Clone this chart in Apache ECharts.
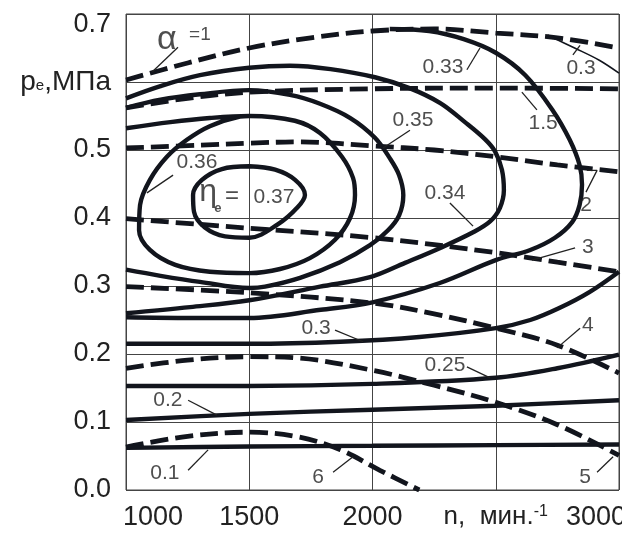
<!DOCTYPE html>
<html>
<head>
<meta charset="utf-8">
<title>Эффективный КПД</title>
<script src="https://cdn.jsdelivr.net/npm/echarts@6.0.0/dist/echarts.min.js"></script>
<style>
    html, body { margin: 0; padding: 0; background: #fff; }
    #chart { width: 622px; height: 535px; }
</style>
</head>
<body>
<div id="chart"></div>
<script>
    // n, мин-1  /  pe, МПа
    var xTicks = [1000, 1500, 2000, 2500, 3000];
    var yTicks = [0, 0.1, 0.2, 0.3, 0.4, 0.5, 0.6, 0.7];

    // коэффициент избытка воздуха (штриховые)
    var alpha1 = [[1000,0.603],[1250,0.628],[1500,0.650],[1750,0.665],[2000,0.675],[2250,0.678],[2500,0.672],[2750,0.665],[3000,0.650]];
    var alpha15 = [[1000,0.562],[1250,0.576],[1500,0.585],[2000,0.590],[2500,0.591],[3000,0.590]];
    var alpha2 = [[1000,0.503],[1300,0.507],[1500,0.510],[1700,0.512],[2000,0.506],[2250,0.500],[2500,0.490],[2750,0.478],[3000,0.468]];
    var alpha3 = [[1000,0.399],[1500,0.385],[2000,0.371],[2500,0.349],[2750,0.335],[3000,0.321]];
    var alpha4 = [[1000,0.299],[1500,0.290],[2000,0.275],[2250,0.259],[2500,0.238],[2750,0.213],[3000,0.172]];
    var alpha5 = [[1000,0.179],[1250,0.191],[1500,0.196],[1700,0.194],[2000,0.176],[2250,0.154],[2500,0.129],[2750,0.096],[3000,0.051]];
    var alpha6 = [[1000,0.063],[1250,0.079],[1500,0.085],[1700,0.078],[1870,0.059],[2030,0.029],[2190,0.0]];

    // эффективный КПД (сплошные)
    var eta010 = [[1000,0.062],[1500,0.064],[2000,0.065],[2500,0.066],[3000,0.067]];
    var eta020 = [[1000,0.103],[1500,0.112],[2000,0.118],[2500,0.124],[3000,0.132]];
    var eta025 = [[1000,0.153],[1500,0.153],[2000,0.156],[2500,0.165],[2750,0.179],[3000,0.199]];
    var eta030 = [[1000,0.215],[1500,0.215],[1870,0.218],[2190,0.225],[2500,0.238],[2640,0.250],[2760,0.268],[2880,0.291],[3000,0.321]];
    var eta030top = [[2710,0.669],[2820,0.650],[2920,0.632],[3000,0.613]];
    var eta033 = [[2070,0.678],[2230,0.675],[2370,0.663],[2500,0.643],[2620,0.610],[2730,0.559],[2800,0.515],[2840,0.478],[2850,0.449],[2840,0.419],[2810,0.394],[2740,0.371],[2640,0.353],[2500,0.338],[2270,0.304],[2000,0.276],[1790,0.265],[1500,0.253],[1260,0.253],[1000,0.254]];
    var eta034 = [[1000,0.576],[1140,0.594],[1300,0.610],[1500,0.621],[1665,0.624],[1830,0.619],[2010,0.607],[2150,0.591],[2275,0.569],[2375,0.541],[2456,0.516],[2497,0.498],[2525,0.471],[2533,0.441],[2517,0.415],[2477,0.395],[2408,0.379],[2275,0.356],[2132,0.334],[1990,0.313],[1787,0.299],[1500,0.279],[1260,0.269],[1000,0.260]];
    var eta035 = [[1000,0.562],[1140,0.574],[1300,0.582],[1500,0.588],[1665,0.581],[1787,0.568],[1910,0.547],[2010,0.518],[2070,0.488],[2108,0.463],[2125,0.434],[2108,0.404],[2063,0.382],[1990,0.360],[1868,0.335],[1706,0.312],[1564,0.299],[1500,0.297],[1300,0.306],[1140,0.315],[1000,0.324]];
    var eta036 = [[1000,0.532],[1180,0.541],[1340,0.547],[1500,0.550],[1685,0.543],[1787,0.525],[1876,0.490],[1921,0.459],[1929,0.434],[1909,0.400],[1848,0.368],[1746,0.341],[1625,0.325],[1500,0.319],[1340,0.321],[1200,0.331],[1097,0.353],[1053,0.382],[1057,0.419],[1097,0.456],[1166,0.490],[1247,0.515],[1340,0.535],[1462,0.549],[1500,0.550]];
    var eta037 = [[1500,0.476],[1605,0.471],[1686,0.456],[1726,0.434],[1694,0.415],[1617,0.391],[1500,0.371],[1402,0.373],[1320,0.386],[1276,0.409],[1272,0.434],[1308,0.456],[1389,0.472],[1500,0.476]];

    // подписи линий и выноски
    var labelTexts = ['0.33', '0.3', '1.5', '0.35', '2', '0.34', '3', '4', '0.3', '0.25', '0.2', '0.1', '6', '5', '0.36'];
    var labelPos = [[2286,0.622],[2846,0.621],[2692,0.540],[2164,0.544],[2866,0.419],[2294,0.437],[2874,0.357],[2874,0.243],[1771,0.238],[2294,0.184],[1170,0.132],[1158,0.025],[1779,0.019],[2862,0.019],[1288,0.482]];
    var leaders = [
        [[2383,0.618],[2436,0.650]],
        [[2813,0.640],[2842,0.654]],
        [[2667,0.559],[2606,0.585]],
        [[2152,0.529],[2043,0.503]],
        [[2866,0.438],[2911,0.470],[2870,0.470]],
        [[2314,0.422],[2408,0.388]],
        [[2822,0.356],[2647,0.338]],
        [[2842,0.238],[2749,0.209]],
        [[1848,0.235],[1962,0.218]],
        [[2383,0.181],[2477,0.165]],
        [[1252,0.132],[1369,0.110]],
        [[1252,0.029],[1333,0.059]],
        [[1840,0.026],[1921,0.049]],
        [[2911,0.026],[2976,0.049]],
        [[1191,0.463],[1085,0.437]],
        [[1211,0.651],[1107,0.615]]
    ];
    // α =1 и ηe = 0.37
    var alphaPos = [[1166,0.663],[1300,0.669]];
    var etaPos = [[1333,0.438],[1373,0.414],[1430,0.432],[1600,0.431]];

    var font = '"Liberation Sans", Arial, sans-serif';
    var ink = '#12151d';

    function curve(data, dashed, width) {
        return {
            type: 'line',
            data: data,
            smooth: 0.35,
            symbol: 'none',
            silent: true,
            animation: false,
            lineStyle: {
                color: ink,
                width: width,
                type: dashed ? [18, 7] : 'solid',
                cap: 'butt'
            },
            z: 3
        };
    }

    var series = [];
    [alpha1, alpha15, alpha2, alpha3, alpha4, alpha5, alpha6].forEach(function (d) {
        series.push(curve(d, true, 4.8));
    });
    [eta010, eta020, eta025, eta030, eta033, eta034, eta035, eta036, eta037].forEach(function (d) {
        series.push(curve(d, false, 4.4));
    });
    series.push(curve(eta030top, false, 1.6));

    leaders.forEach(function (d) {
        series.push({
            type: 'line',
            data: d,
            symbol: 'none',
            silent: true,
            animation: false,
            lineStyle: { color: '#222', width: 1.3 },
            z: 4
        });
    });

    var textData = labelTexts.map(function (t, i) {
        return { name: t, value: labelPos[i] };
    });
    textData.push({ name: 'α', value: alphaPos[0], label: { fontSize: 34 } });
    textData.push({ name: '=1', value: alphaPos[1], label: { fontSize: 19 } });
    textData.push({ name: 'η', value: etaPos[0], label: { fontSize: 32 } });
    textData.push({ name: 'e', value: etaPos[1], label: { fontSize: 13, fontWeight: 'bold' } });
    textData.push({ name: '=', value: etaPos[2], label: { fontSize: 24 } });
    textData.push({ name: '0.37', value: etaPos[3] });

    series.push({
        type: 'scatter',
        data: textData,
        symbolSize: 0,
        silent: true,
        animation: false,
        label: {
            show: true,
            position: 'inside',
            formatter: '{b}',
            fontSize: 21,
            fontFamily: font,
            color: '#222'
        },
        z: 5
    });

    var chart = echarts.init(document.getElementById('chart'), null, { renderer: 'canvas' });
    chart.setOption({
        backgroundColor: '#fff',
        animation: false,
        grid: {
            left: 126, top: 14, width: 493, height: 476,
            show: true, borderColor: '#444', borderWidth: 1,
            containLabel: false, outerBoundsMode: 'none'
        },
        xAxis: {
            type: 'value',
            min: xTicks[0], max: xTicks[xTicks.length - 1], interval: 500,
            axisLine: { show: false },
            axisTick: { show: false },
            splitLine: { show: true, lineStyle: { color: '#444', width: 1 } },
            axisLabel: {
                margin: 14,
                showMinLabel: true, showMaxLabel: true,
                color: '#222', fontFamily: font, fontSize: 27,
                formatter: function (v) {
                    if (v === xTicks[0]) return '{l|' + v + '}';
                    if (v === xTicks[4]) return '{r|' + v + '}';
                    if (v === xTicks[3]) return '{n|n,  мин.}{s|-1}';
                    return '{d|' + v + '}';
                },
                rich: {
                    d: { fontSize: 27, fontFamily: font, color: '#222' },
                    l: { fontSize: 27, fontFamily: font, color: '#222', padding: [0, 0, 0, 54] },
                    r: { fontSize: 27, fontFamily: font, color: '#222', padding: [0, 46, 0, 0] },
                    n: { fontSize: 26, fontFamily: font, color: '#222' },
                    s: { fontSize: 16, fontFamily: font, color: '#222', verticalAlign: 'top', padding: [0, 0, 10, 0] }
                }
            }
        },
        yAxis: {
            type: 'value',
            min: yTicks[0], max: yTicks[yTicks.length - 1], interval: 0.1,
            axisLine: { show: false },
            axisTick: { show: false },
            splitLine: { show: true, lineStyle: { color: '#444', width: 1 } },
            axisLabel: {
                margin: 15,
                showMinLabel: true, showMaxLabel: true,
                color: '#222', fontFamily: font, fontSize: 27,
                formatter: function (v) {
                    if (Math.abs(v - 0.6) < 1e-6) return '{p|p}{e|e}{p|,МПа}';
                    if (Math.abs(v - 0.7) < 1e-6) return '{t|0.7}';
                    return '{d|' + v.toFixed(1) + '}';
                },
                rich: {
                    d: { fontSize: 27, fontFamily: font, color: '#222' },
                    t: { fontSize: 27, fontFamily: font, color: '#222', padding: [22, 0, 0, 0] },
                    p: { fontSize: 28, fontFamily: font, color: '#222' },
                    e: { fontSize: 15, fontFamily: font, color: '#222', padding: [8, 0, 0, 0] }
                }
            }
        },
        series: series
    });
</script>
</body>
</html>
